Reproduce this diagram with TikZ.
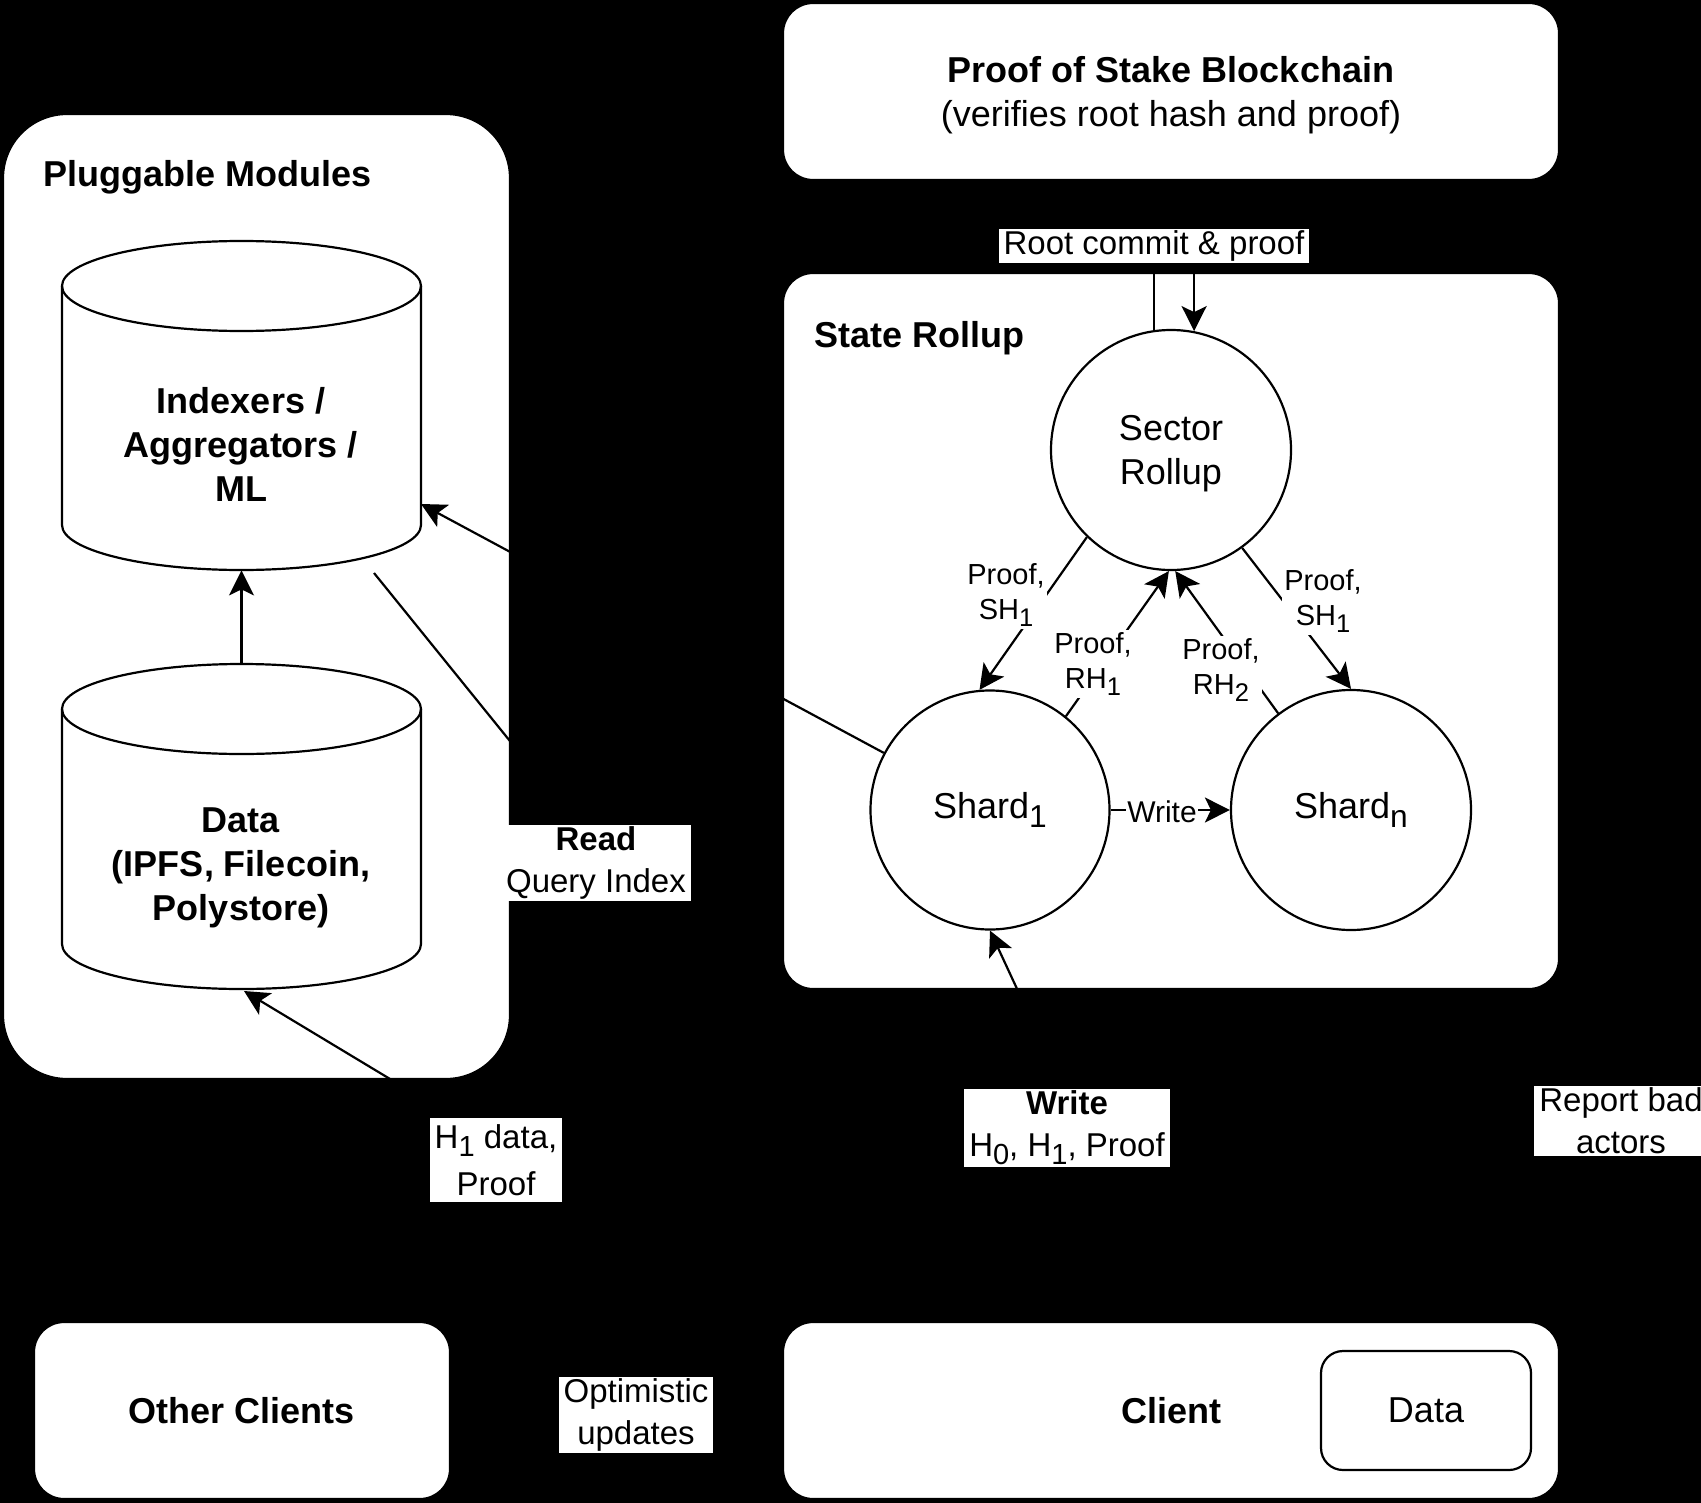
\documentclass[tikz,border=0pt]{standalone}
\usepackage{fontspec}
\setmainfont{Liberation Sans}
\usetikzlibrary{arrows.meta}
\makeatletter
\newcommand\lsub[1]{\raisebox{-0.25em}{\fontsize{\the\dimexpr 0.88\dimexpr\f@size pt\relax\relax}{0pt}\selectfont #1}}
\makeatother
\begin{document}
\begin{tikzpicture}[x=0.5pt,y=-0.5pt,
  ln/.style={line width=1.1pt},
  box/.style={draw, fill=white, line width=1.1pt, rounded corners=15pt, inner sep=0pt},
  circ/.style={draw, fill=white, circle, line width=1.1pt, inner sep=0pt, font=\fontsize{18}{22}\selectfont, align=center},
  big/.style={font=\fontsize{18}{22}\selectfont, align=center},
  bigb/.style={font=\fontsize{18}{22}\selectfont\bfseries, align=center},
  elab/.style={fill=white, inner xsep=2.5pt, inner ysep=1pt, font=\fontsize{16.5}{21}\selectfont, align=center},
  slab/.style={fill=white, inner xsep=1pt, inner ysep=1pt, font=\fontsize{14.5}{17.5}\selectfont, align=center},
  arr/.style={line width=1.1pt, -{Stealth[length=12.5pt,width=12.5pt,inset=3pt]}},
  anch/.style={inner sep=0pt, minimum width=179.5pt}
]
\useasboundingbox (0,0) rectangle (1701,1503);
\fill[black] (0,0) rectangle (1701,1503);

% containers
\node[box, rounded corners=32pt, minimum width=253.5pt, minimum height=482.5pt] (plug) at (256.5,596.5) {};
\node[bigb, anchor=west, inner sep=0pt] (plugT) at (43,177) {Pluggable Modules};
\node[box, minimum width=388pt, minimum height=358pt] (roll) at (1171,631) {};
\node[bigb, anchor=west, inner sep=0pt] (rollT) at (814,338) {State Rollup};
\node[box, minimum width=388pt, minimum height=88.5pt] (pos) at (1171,91.5) {};
\node[big] (posT) at (1171,95) {\textbf{Proof of Stake Blockchain}\\(verifies root hash and proof)};
\node[box, bigb, minimum width=208pt, minimum height=88.5pt] (oth) at (242,1410.5) {Other Clients};
\node[box, bigb, minimum width=388pt, minimum height=88.5pt] (cli) at (1171,1410.5) {Client};
\node[box, big, rounded corners=11pt, minimum width=105pt, minimum height=59.5pt] (cdata) at (1426,1410.5) {Data};

% cylinders
\draw[ln, fill=white] (62,286) -- (62,525) arc[start angle=180,end angle=360,x radius=89.75pt,y radius=22.5pt] -- (421,286) arc[start angle=0,end angle=180,x radius=89.75pt,y radius=22.5pt] -- cycle;
\draw[ln] (62,286) arc[start angle=180,end angle=360,x radius=89.75pt,y radius=22.5pt];
\node[anch, minimum height=164.5pt] (idx) at (241.5,405.5) {};
\node[bigb] (idxT) at (241,444) {Indexers /\\Aggregators /\\ML};

\draw[ln, fill=white] (62,709) -- (62,944) arc[start angle=180,end angle=360,x radius=89.75pt,y radius=22.5pt] -- (421,709) arc[start angle=0,end angle=180,x radius=89.75pt,y radius=22.5pt] -- cycle;
\draw[ln] (62,709) arc[start angle=180,end angle=360,x radius=89.75pt,y radius=22.5pt];
\node[anch, minimum height=162.5pt] (dat) at (241.5,826.5) {};
\node[bigb] (datT) at (241,868) {Data\\(IPFS, Filecoin,\\Polystore)};

% circles
\node[circ, minimum size=120pt] (sec) at (1171,450) {};
\node[big] (secT) at (1171,454) {Sector\\Rollup};
\node[circ, minimum size=119.5pt] (s1) at (990,810) {Shard\lsub{1}};
\node[circ, minimum size=120pt] (sn) at (1351,810) {Shard\lsub{n}};

% free-end coordinates
\coordinate (idxR) at (421,504);
\coordinate (idxB) at (374,573);
\coordinate (cliR) at (980,1322);
\coordinate (cliNW) at (790,1320);
\coordinate (datB) at (244,991);

% connectors
\draw[arr] (dat.north) -- (idx.south);
\draw[arr] (s1) -- (idxR);
\draw[arr] (idxB) -- (cliR);
\draw[arr] (cliNW) -- (datB);
\draw[arr] (cli.north) -- (s1.south);
\draw[arr] (sec.98.6) -- (sec.98.6 |- pos.south);
\draw[arr] (pos.south -| sec.79) -- (sec.79);
\draw[arr] (sec.-134) -- (s1.95);
\draw[arr] (s1.51) -- (sec.-91);
\draw[arr] (sn.127) -- (sec.-88);
\draw[arr] (sec.-54) -- (sn.90);
\draw[arr] (s1) -- (sn);
\draw[arr] (cli.east) -- (1620,1410.5) |- (roll.east);
\draw[arr] (cli.west) -- (oth.east);

% labels
\node[slab] (l1) at (1006,595) {Proof,\\SH\lsub{1}};
\node[slab] (l2) at (1093,664) {Proof,\\RH\lsub{1}};
\node[slab] (l3) at (1221,670) {Proof,\\RH\lsub{2}};
\node[slab] (l4) at (1323,601) {Proof,\\SH\lsub{1}};
\node[slab, font=\fontsize{15}{18}\selectfont, inner xsep=0.5pt] (l5) at (1162,812) {Write};
\node[elab] (l6) at (1154,246) {Root commit \& proof};
\node[elab] (l7) at (596,863) {\textbf{Read}\\Query Index};
\node[elab, font=\fontsize{16.5}{23.5}\selectfont, inner ysep=3pt] (l8) at (496,1160) {H\lsub{1} data,\\Proof};
\node[elab] (l9) at (1067,1128) {\textbf{Write}\\H\lsub{0}, H\lsub{1}, Proof};
\node[elab] (l10) at (1621,1121) {Report bad\\actors};
\node[elab] (l11) at (636,1415) {Optimistic\\updates};
\end{tikzpicture}
\end{document}
